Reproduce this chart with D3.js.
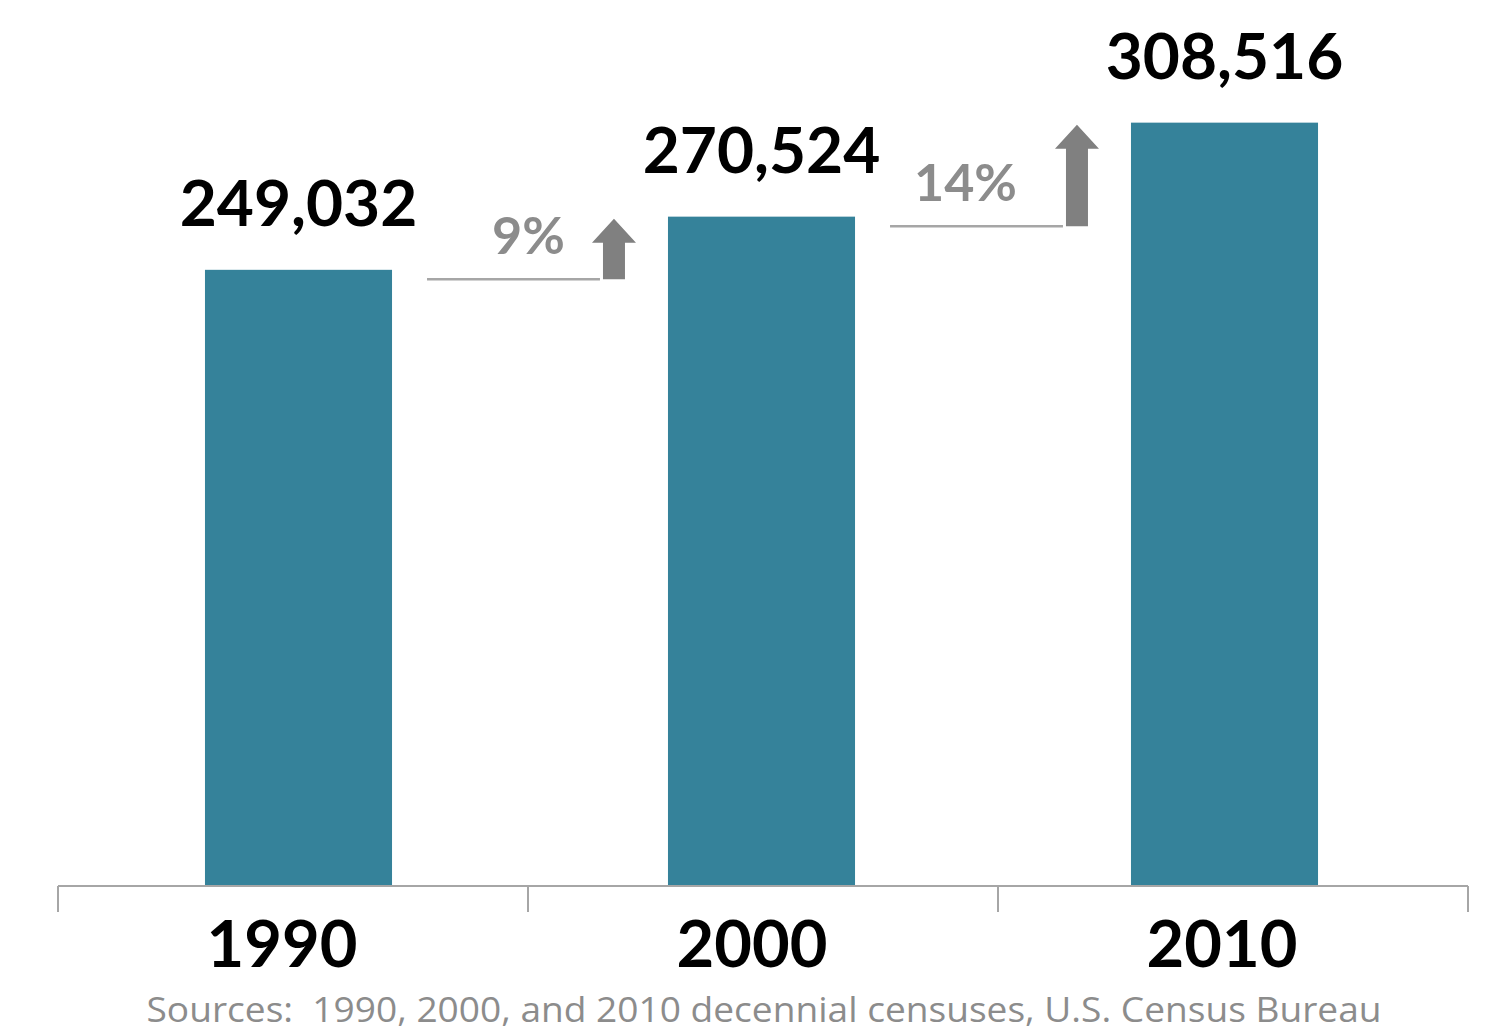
<!DOCTYPE html>
<html>
<head>
<meta charset="utf-8">
<script src="https://cdn.jsdelivr.net/npm/d3@7/dist/d3.min.js"></script>
<style>
  html, body { margin: 0; padding: 0; background: #ffffff; }
  svg { display: block; }
</style>
</head>
<body>
<svg id="chart" width="1493" height="1034"></svg>
<script>
// U.S. resident population (thousands), decennial censuses
const years = ["1990", "2000", "2010"];
const population = [249032, 270524, 308516];
const growthLabels = ["9%", "14%"];
const sourceNote = "Sources:  1990, 2000, and 2010 decennial censuses, U.S. Census Bureau";

const svg = d3.select("#chart");
const FONT = "Lato, 'Open Sans', sans-serif";

const baseY = 886;
const y = d3.scaleLinear().domain([0, 350000]).range([baseY, 20]);

// category axis bands (tick marks sit on band boundaries)
const xAxisScale = d3.scaleBand().domain(years).range([58, 1468]);
// bars use their own slightly tighter band layout
const xBar = d3.scaleBand().domain(years).range([67, 1456])
  .paddingInner(0.596).paddingOuter(0.298);

// bars
svg.append("g").selectAll("rect")
  .data(years)
  .join("rect")
  .attr("x", d => xBar(d))
  .attr("width", xBar.bandwidth())
  .attr("y", (d, i) => y(population[i]))
  .attr("height", (d, i) => baseY - y(population[i]))
  .attr("fill", "#35829a");

// axis line and tick marks
const axis = svg.append("g").attr("stroke", "#a6a6a6").attr("stroke-width", 2);
axis.append("line")
  .attr("x1", xAxisScale.range()[0]).attr("x2", xAxisScale.range()[1])
  .attr("y1", baseY).attr("y2", baseY);
const tickXs = years.map(d => xAxisScale(d)).concat([xAxisScale.range()[1]]);
axis.selectAll("line.tick")
  .data(tickXs)
  .join("line")
  .attr("class", "tick")
  .attr("x1", d => d).attr("x2", d => d)
  .attr("y1", baseY).attr("y2", baseY + 26);

// year labels
svg.append("g").selectAll("text")
  .data(years)
  .join("text")
  .attr("x", d => xAxisScale(d) + xAxisScale.bandwidth() / 2 - 11)
  .attr("y", 967)
  .attr("text-anchor", "middle")
  .attr("font-family", FONT)
  .attr("font-weight", 700)
  .attr("font-size", 65)
  .attr("fill", "#000")
  .text(d => d);

// value labels above bars
const fmt = d3.format(",");
svg.append("g").selectAll("text")
  .data(years)
  .join("text")
  .attr("x", d => xBar(d) + xBar.bandwidth() / 2)
  .attr("y", (d, i) => y(population[i]) - 44)
  .attr("text-anchor", "middle")
  .attr("font-family", FONT)
  .attr("font-weight", 700)
  .attr("font-size", 64)
  .attr("fill", "#000")
  .text((d, i) => fmt(population[i]));

// growth indicators between consecutive censuses
const growth = svg.append("g");
growthLabels.forEach((label, i) => {
  const from = years[i], to = years[i + 1];
  const lineY = y(population[i]) + 9.5;
  const tipY = y(population[i + 1]) + 2;
  const x1 = xBar(from) + xBar.bandwidth() + 35;
  const arrowX = xBar(to) - 54;
  const x2 = arrowX - 14;

  growth.append("line")
    .attr("x1", x1).attr("x2", x2)
    .attr("y1", lineY).attr("y2", lineY)
    .attr("stroke", "#a6a6a6").attr("stroke-width", 2.5);

  const shaftW = 22, headW = 44, headH = 24;
  const path = d3.path();
  path.moveTo(arrowX - shaftW / 2, lineY);
  path.lineTo(arrowX - shaftW / 2, tipY + headH);
  path.lineTo(arrowX - headW / 2, tipY + headH);
  path.lineTo(arrowX, tipY);
  path.lineTo(arrowX + headW / 2, tipY + headH);
  path.lineTo(arrowX + shaftW / 2, tipY + headH);
  path.lineTo(arrowX + shaftW / 2, lineY);
  path.closePath();
  growth.append("path").attr("d", path.toString()).attr("fill", "#808080");

  growth.append("text")
    .attr("x", (x1 + x2) / 2 + (i === 0 ? 15 : -11))
    .attr("y", lineY - 25)
    .attr("text-anchor", "middle")
    .attr("font-family", FONT)
    .attr("font-weight", 700)
    .attr("font-size", 52)
    .attr("fill", "#8c8c8c")
    .text(label);
});

// source note
svg.append("text")
  .attr("x", 764)
  .attr("y", 1022)
  .attr("text-anchor", "middle")
  .attr("font-family", "'Open Sans', Lato, sans-serif")
  .attr("font-size", 35)
  .attr("fill", "#8c8c8c")
  .attr("textLength", 1235)
  .attr("lengthAdjust", "spacingAndGlyphs")
  .style("white-space", "pre")
  .text(sourceNote);
</script>
</body>
</html>
